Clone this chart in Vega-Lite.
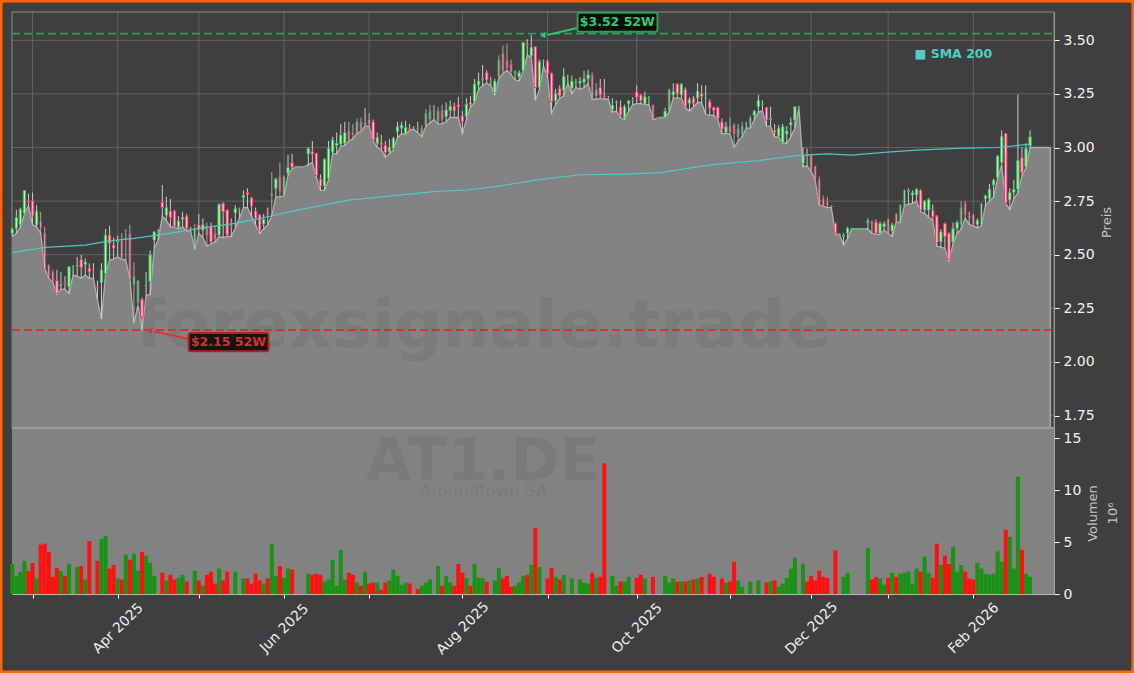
{
"$schema":"https://vega.github.io/schema/vega-lite/v6.json",
"width":1134,"height":673,
"autosize":{"type":"fit","contains":"padding"},
"padding":0,
"background":"#ffffff",
"view":{"fill":"#3f3f3f","stroke":"#ff6600","strokeWidth":5,"cornerRadius":4},
"config":{"font":"DejaVu Sans"},
"datasets":{
"ticks":[{"n":5},{"n":26},{"n":46},{"n":67},{"n":88},{"n":111},{"n":132},{"n":154},{"n":177},{"n":197},{"n":216},{"n":237}],
"levels":[{"p":1.75},{"p":2.0},{"p":2.25},{"p":2.5},{"p":2.75},{"p":3.0},{"p":3.25},{"p":3.5}],
"sma":[{"n":0,"s":2.51},{"n":8,"s":2.534},{"n":18,"s":2.545},{"n":24,"s":2.565},{"n":30,"s":2.576},{"n":38,"s":2.597},{"n":46,"s":2.623},{"n":55,"s":2.646},{"n":63,"s":2.677},{"n":71,"s":2.71},{"n":83,"s":2.755},{"n":104,"s":2.794},{"n":112,"s":2.802},{"n":120,"s":2.82},{"n":129,"s":2.848},{"n":140,"s":2.873},{"n":151,"s":2.876},{"n":160,"s":2.883},{"n":168,"s":2.907},{"n":174,"s":2.923},{"n":184,"s":2.939},{"n":194,"s":2.963},{"n":201,"s":2.97},{"n":207,"s":2.965},{"n":215,"s":2.977},{"n":223,"s":2.988},{"n":233,"s":2.996},{"n":243,"s":3.0},{"n":251,"s":3.016}],
"bars":[
{"n":0,"o":2.6,"h":2.625,"l":2.585,"c":2.62,"v":2.9,"s":"up"},
{"n":1,"o":2.623,"h":2.71,"l":2.6,"c":2.674,"v":1.7,"s":"up"},
{"n":2,"o":2.639,"h":2.72,"l":2.63,"c":2.712,"v":2.15,"s":"up"},
{"n":3,"o":2.693,"h":2.8,"l":2.69,"c":2.8,"v":3.2,"s":"up"},
{"n":4,"o":2.75,"h":2.785,"l":2.73,"c":2.745,"v":2.2,"s":"dn"},
{"n":5,"o":2.752,"h":2.79,"l":2.64,"c":2.68,"v":3.0,"s":"dn"},
{"n":6,"o":2.638,"h":2.73,"l":2.63,"c":2.703,"v":1.5,"s":"up"},
{"n":7,"o":2.655,"h":2.7,"l":2.6,"c":2.625,"v":4.75,"s":"dn"},
{"n":8,"o":2.6,"h":2.63,"l":2.437,"c":2.437,"v":4.85,"s":"dn"},
{"n":9,"o":2.45,"h":2.455,"l":2.39,"c":2.4,"v":4.05,"s":"dn"},
{"n":10,"o":2.42,"h":2.43,"l":2.37,"c":2.375,"v":1.65,"s":"dn"},
{"n":11,"o":2.38,"h":2.43,"l":2.315,"c":2.32,"v":2.5,"s":"dn"},
{"n":12,"o":2.355,"h":2.42,"l":2.34,"c":2.36,"v":2.2,"s":"up"},
{"n":13,"o":2.37,"h":2.4,"l":2.34,"c":2.365,"v":1.75,"s":"dn"},
{"n":14,"o":2.35,"h":2.445,"l":2.32,"c":2.444,"v":2.9,"s":"up"},
{"n":15,"o":2.447,"h":2.45,"l":2.405,"c":2.447,"v":0,"s":"up"},
{"n":16,"o":2.447,"h":2.49,"l":2.4,"c":2.45,"v":2.6,"s":"up"},
{"n":17,"o":2.478,"h":2.5,"l":2.39,"c":2.44,"v":2.7,"s":"dn"},
{"n":18,"o":2.455,"h":2.483,"l":2.405,"c":2.466,"v":1.4,"s":"up"},
{"n":19,"o":2.437,"h":2.46,"l":2.39,"c":2.42,"v":5.1,"s":"dn"},
{"n":20,"o":2.42,"h":2.46,"l":2.39,"c":2.42,"v":0,"s":"dn"},
{"n":21,"o":2.352,"h":2.38,"l":2.29,"c":2.348,"v":3.2,"s":"dn"},
{"n":22,"o":2.37,"h":2.46,"l":2.2,"c":2.428,"v":5.3,"s":"up"},
{"n":23,"o":2.413,"h":2.62,"l":2.41,"c":2.592,"v":5.6,"s":"up"},
{"n":24,"o":2.592,"h":2.635,"l":2.475,"c":2.553,"v":2.45,"s":"dn"},
{"n":25,"o":2.545,"h":2.58,"l":2.48,"c":2.53,"v":2.8,"s":"dn"},
{"n":26,"o":2.56,"h":2.59,"l":2.49,"c":2.565,"v":1.5,"s":"up"},
{"n":27,"o":2.57,"h":2.6,"l":2.48,"c":2.485,"v":1.4,"s":"dn"},
{"n":28,"o":2.575,"h":2.62,"l":2.475,"c":2.58,"v":3.8,"s":"up"},
{"n":29,"o":2.6,"h":2.64,"l":2.39,"c":2.39,"v":3.3,"s":"dn"},
{"n":30,"o":2.36,"h":2.465,"l":2.18,"c":2.4,"v":3.9,"s":"up"},
{"n":31,"o":2.275,"h":2.38,"l":2.265,"c":2.38,"v":2.25,"s":"up"},
{"n":32,"o":2.292,"h":2.3,"l":2.15,"c":2.21,"v":4.05,"s":"dn"},
{"n":33,"o":2.355,"h":2.42,"l":2.31,"c":2.358,"v":3.7,"s":"up"},
{"n":34,"o":2.374,"h":2.52,"l":2.315,"c":2.5,"v":3.0,"s":"up"},
{"n":35,"o":2.568,"h":2.61,"l":2.53,"c":2.606,"v":1.75,"s":"up"},
{"n":36,"o":2.605,"h":2.62,"l":2.57,"c":2.605,"v":0,"s":"up"},
{"n":37,"o":2.745,"h":2.825,"l":2.68,"c":2.72,"v":2.05,"s":"dn"},
{"n":38,"o":2.684,"h":2.77,"l":2.66,"c":2.72,"v":1.3,"s":"up"},
{"n":39,"o":2.704,"h":2.76,"l":2.63,"c":2.673,"v":1.85,"s":"dn"},
{"n":40,"o":2.704,"h":2.71,"l":2.63,"c":2.634,"v":1.4,"s":"dn"},
{"n":41,"o":2.626,"h":2.68,"l":2.62,"c":2.658,"v":1.55,"s":"up"},
{"n":42,"o":2.665,"h":2.7,"l":2.63,"c":2.675,"v":1.85,"s":"up"},
{"n":43,"o":2.68,"h":2.69,"l":2.61,"c":2.623,"v":1.2,"s":"dn"},
{"n":44,"o":2.62,"h":2.63,"l":2.61,"c":2.62,"v":0,"s":"up"},
{"n":45,"o":2.545,"h":2.645,"l":2.525,"c":2.62,"v":2.25,"s":"up"},
{"n":46,"o":2.64,"h":2.69,"l":2.6,"c":2.615,"v":1.3,"s":"dn"},
{"n":47,"o":2.615,"h":2.67,"l":2.58,"c":2.64,"v":0.8,"s":"up"},
{"n":48,"o":2.635,"h":2.65,"l":2.54,"c":2.59,"v":1.85,"s":"dn"},
{"n":49,"o":2.63,"h":2.65,"l":2.55,"c":2.56,"v":2.15,"s":"dn"},
{"n":50,"o":2.6,"h":2.635,"l":2.56,"c":2.57,"v":1.0,"s":"dn"},
{"n":51,"o":2.592,"h":2.74,"l":2.585,"c":2.735,"v":2.45,"s":"up"},
{"n":52,"o":2.74,"h":2.745,"l":2.58,"c":2.7,"v":1.3,"s":"dn"},
{"n":53,"o":2.708,"h":2.71,"l":2.585,"c":2.592,"v":2.15,"s":"dn"},
{"n":54,"o":2.63,"h":2.67,"l":2.585,"c":2.63,"v":0,"s":"up"},
{"n":55,"o":2.695,"h":2.73,"l":2.625,"c":2.716,"v":2.15,"s":"up"},
{"n":56,"o":2.71,"h":2.72,"l":2.67,"c":2.71,"v":0,"s":"up"},
{"n":57,"o":2.766,"h":2.8,"l":2.72,"c":2.778,"v":1.5,"s":"up"},
{"n":58,"o":2.79,"h":2.81,"l":2.72,"c":2.78,"v":1.5,"s":"dn"},
{"n":59,"o":2.765,"h":2.77,"l":2.68,"c":2.727,"v":1.0,"s":"dn"},
{"n":60,"o":2.704,"h":2.72,"l":2.64,"c":2.67,"v":1.95,"s":"dn"},
{"n":61,"o":2.685,"h":2.69,"l":2.6,"c":2.612,"v":1.3,"s":"dn"},
{"n":62,"o":2.643,"h":2.69,"l":2.62,"c":2.665,"v":1.0,"s":"up"},
{"n":63,"o":2.695,"h":2.72,"l":2.64,"c":2.69,"v":1.5,"s":"dn"},
{"n":64,"o":2.775,"h":2.885,"l":2.68,"c":2.785,"v":4.85,"s":"up"},
{"n":65,"o":2.81,"h":2.86,"l":2.77,"c":2.853,"v":1.75,"s":"up"},
{"n":66,"o":2.864,"h":2.93,"l":2.77,"c":2.794,"v":2.7,"s":"dn"},
{"n":67,"o":2.778,"h":2.87,"l":2.775,"c":2.864,"v":1.55,"s":"up"},
{"n":68,"o":2.88,"h":2.965,"l":2.87,"c":2.907,"v":2.45,"s":"up"},
{"n":69,"o":2.93,"h":2.97,"l":2.9,"c":2.908,"v":2.35,"s":"dn"},
{"n":70,"o":2.91,"h":2.915,"l":2.91,"c":2.91,"v":0,"s":"up"},
{"n":71,"o":2.91,"h":2.915,"l":2.91,"c":2.91,"v":0,"s":"up"},
{"n":72,"o":2.91,"h":2.915,"l":2.91,"c":2.91,"v":0,"s":"up"},
{"n":73,"o":2.97,"h":3.0,"l":2.92,"c":2.996,"v":1.95,"s":"up"},
{"n":74,"o":2.982,"h":3.03,"l":2.93,"c":2.968,"v":1.85,"s":"dn"},
{"n":75,"o":2.973,"h":2.975,"l":2.86,"c":2.869,"v":1.95,"s":"dn"},
{"n":76,"o":2.852,"h":2.875,"l":2.8,"c":2.82,"v":1.85,"s":"dn"},
{"n":77,"o":2.82,"h":2.95,"l":2.8,"c":2.945,"v":1.2,"s":"up"},
{"n":78,"o":2.856,"h":3.03,"l":2.85,"c":2.996,"v":1.4,"s":"up"},
{"n":79,"o":2.978,"h":3.05,"l":2.97,"c":3.035,"v":3.3,"s":"up"},
{"n":80,"o":3.009,"h":3.07,"l":2.97,"c":3.02,"v":0.8,"s":"up"},
{"n":81,"o":3.016,"h":3.11,"l":3.005,"c":3.058,"v":4.25,"s":"up"},
{"n":82,"o":3.02,"h":3.12,"l":3.01,"c":3.07,"v":1.4,"s":"up"},
{"n":83,"o":3.08,"h":3.12,"l":3.03,"c":3.035,"v":2.05,"s":"dn"},
{"n":84,"o":3.07,"h":3.11,"l":3.04,"c":3.06,"v":1.85,"s":"dn"},
{"n":85,"o":3.07,"h":3.135,"l":3.066,"c":3.12,"v":1.1,"s":"up"},
{"n":86,"o":3.12,"h":3.14,"l":3.075,"c":3.082,"v":0.8,"s":"dn"},
{"n":87,"o":3.108,"h":3.183,"l":3.1,"c":3.112,"v":2.15,"s":"up"},
{"n":88,"o":3.131,"h":3.16,"l":3.1,"c":3.11,"v":1.0,"s":"dn"},
{"n":89,"o":3.12,"h":3.13,"l":3.03,"c":3.035,"v":1.1,"s":"dn"},
{"n":90,"o":3.02,"h":3.07,"l":3.0,"c":3.047,"v":1.1,"s":"up"},
{"n":91,"o":3.022,"h":3.06,"l":2.99,"c":3.012,"v":0.4,"s":"dn"},
{"n":92,"o":3.01,"h":3.03,"l":2.955,"c":2.976,"v":1.1,"s":"dn"},
{"n":93,"o":2.979,"h":3.04,"l":2.97,"c":3.0,"v":1.3,"s":"up"},
{"n":94,"o":2.996,"h":3.05,"l":2.99,"c":3.044,"v":2.35,"s":"up"},
{"n":95,"o":3.074,"h":3.12,"l":3.045,"c":3.097,"v":1.75,"s":"up"},
{"n":96,"o":3.09,"h":3.12,"l":3.065,"c":3.105,"v":0.9,"s":"up"},
{"n":97,"o":3.062,"h":3.125,"l":3.06,"c":3.094,"v":1.1,"s":"up"},
{"n":98,"o":3.09,"h":3.11,"l":3.08,"c":3.085,"v":1.0,"s":"dn"},
{"n":99,"o":3.09,"h":3.1,"l":3.085,"c":3.09,"v":0,"s":"up"},
{"n":100,"o":3.09,"h":3.12,"l":3.07,"c":3.088,"v":0.5,"s":"dn"},
{"n":101,"o":3.06,"h":3.105,"l":3.05,"c":3.09,"v":0.8,"s":"up"},
{"n":102,"o":3.105,"h":3.18,"l":3.1,"c":3.16,"v":1.1,"s":"up"},
{"n":103,"o":3.13,"h":3.2,"l":3.115,"c":3.17,"v":1.4,"s":"up"},
{"n":104,"o":3.17,"h":3.198,"l":3.13,"c":3.17,"v":0,"s":"up"},
{"n":105,"o":3.12,"h":3.19,"l":3.11,"c":3.17,"v":2.7,"s":"up"},
{"n":106,"o":3.175,"h":3.2,"l":3.11,"c":3.13,"v":0.8,"s":"dn"},
{"n":107,"o":3.144,"h":3.21,"l":3.12,"c":3.175,"v":1.75,"s":"up"},
{"n":108,"o":3.172,"h":3.22,"l":3.14,"c":3.193,"v":1.1,"s":"up"},
{"n":109,"o":3.193,"h":3.21,"l":3.14,"c":3.172,"v":0.8,"s":"dn"},
{"n":110,"o":3.2,"h":3.237,"l":3.14,"c":3.19,"v":2.9,"s":"dn"},
{"n":111,"o":3.148,"h":3.17,"l":3.065,"c":3.12,"v":2.05,"s":"dn"},
{"n":112,"o":3.144,"h":3.23,"l":3.13,"c":3.203,"v":1.55,"s":"up"},
{"n":113,"o":3.21,"h":3.24,"l":3.19,"c":3.2,"v":0.8,"s":"dn"},
{"n":114,"o":3.214,"h":3.32,"l":3.21,"c":3.296,"v":2.9,"s":"up"},
{"n":115,"o":3.292,"h":3.35,"l":3.27,"c":3.31,"v":1.55,"s":"up"},
{"n":116,"o":3.318,"h":3.385,"l":3.29,"c":3.32,"v":1.55,"s":"up"},
{"n":117,"o":3.35,"h":3.36,"l":3.3,"c":3.315,"v":1.2,"s":"dn"},
{"n":118,"o":3.31,"h":3.33,"l":3.29,"c":3.31,"v":0,"s":"up"},
{"n":119,"o":3.256,"h":3.32,"l":3.245,"c":3.31,"v":1.3,"s":"up"},
{"n":120,"o":3.33,"h":3.43,"l":3.32,"c":3.408,"v":2.5,"s":"up"},
{"n":121,"o":3.44,"h":3.475,"l":3.345,"c":3.354,"v":1.5,"s":"dn"},
{"n":122,"o":3.408,"h":3.485,"l":3.36,"c":3.37,"v":1.75,"s":"dn"},
{"n":123,"o":3.39,"h":3.41,"l":3.34,"c":3.35,"v":0.7,"s":"dn"},
{"n":124,"o":3.35,"h":3.36,"l":3.315,"c":3.352,"v":0.8,"s":"up"},
{"n":125,"o":3.33,"h":3.36,"l":3.31,"c":3.35,"v":1.1,"s":"up"},
{"n":126,"o":3.358,"h":3.49,"l":3.355,"c":3.49,"v":1.75,"s":"up"},
{"n":127,"o":3.483,"h":3.505,"l":3.43,"c":3.478,"v":1.85,"s":"dn"},
{"n":128,"o":3.427,"h":3.525,"l":3.42,"c":3.467,"v":2.8,"s":"up"},
{"n":129,"o":3.47,"h":3.47,"l":3.22,"c":3.28,"v":6.35,"s":"dn"},
{"n":130,"o":3.28,"h":3.41,"l":3.27,"c":3.4,"v":2.6,"s":"up"},
{"n":131,"o":3.4,"h":3.41,"l":3.38,"c":3.4,"v":0,"s":"up"},
{"n":132,"o":3.402,"h":3.41,"l":3.33,"c":3.343,"v":1.5,"s":"dn"},
{"n":133,"o":3.346,"h":3.35,"l":3.16,"c":3.214,"v":2.5,"s":"dn"},
{"n":134,"o":3.217,"h":3.275,"l":3.2,"c":3.253,"v":1.65,"s":"up"},
{"n":135,"o":3.276,"h":3.29,"l":3.23,"c":3.24,"v":1.4,"s":"dn"},
{"n":136,"o":3.265,"h":3.37,"l":3.24,"c":3.332,"v":1.85,"s":"up"},
{"n":137,"o":3.31,"h":3.34,"l":3.3,"c":3.31,"v":0,"s":"up"},
{"n":138,"o":3.276,"h":3.335,"l":3.25,"c":3.31,"v":1.5,"s":"up"},
{"n":139,"o":3.3,"h":3.32,"l":3.28,"c":3.3,"v":0,"s":"up"},
{"n":140,"o":3.3,"h":3.33,"l":3.27,"c":3.31,"v":1.4,"s":"up"},
{"n":141,"o":3.305,"h":3.357,"l":3.28,"c":3.32,"v":1.1,"s":"up"},
{"n":142,"o":3.32,"h":3.362,"l":3.3,"c":3.34,"v":1.0,"s":"up"},
{"n":143,"o":3.338,"h":3.35,"l":3.225,"c":3.23,"v":2.05,"s":"dn"},
{"n":144,"o":3.24,"h":3.3,"l":3.225,"c":3.27,"v":1.55,"s":"up"},
{"n":145,"o":3.28,"h":3.32,"l":3.23,"c":3.245,"v":1.65,"s":"dn"},
{"n":146,"o":3.24,"h":3.32,"l":3.225,"c":3.235,"v":12.6,"s":"dn"},
{"n":147,"o":3.23,"h":3.24,"l":3.225,"c":3.23,"v":0,"s":"up"},
{"n":148,"o":3.178,"h":3.23,"l":3.165,"c":3.196,"v":1.75,"s":"up"},
{"n":149,"o":3.21,"h":3.22,"l":3.17,"c":3.213,"v":0.8,"s":"up"},
{"n":150,"o":3.19,"h":3.22,"l":3.14,"c":3.15,"v":1.2,"s":"dn"},
{"n":151,"o":3.14,"h":3.2,"l":3.13,"c":3.19,"v":1.2,"s":"up"},
{"n":152,"o":3.203,"h":3.22,"l":3.17,"c":3.218,"v":1.65,"s":"up"},
{"n":153,"o":3.22,"h":3.235,"l":3.2,"c":3.22,"v":0,"s":"up"},
{"n":154,"o":3.26,"h":3.29,"l":3.205,"c":3.234,"v":1.55,"s":"dn"},
{"n":155,"o":3.245,"h":3.25,"l":3.205,"c":3.218,"v":1.85,"s":"dn"},
{"n":156,"o":3.203,"h":3.26,"l":3.2,"c":3.237,"v":1.5,"s":"up"},
{"n":157,"o":3.23,"h":3.24,"l":3.2,"c":3.23,"v":0,"s":"up"},
{"n":158,"o":3.198,"h":3.2,"l":3.13,"c":3.136,"v":1.65,"s":"dn"},
{"n":159,"o":3.136,"h":3.14,"l":3.136,"c":3.136,"v":0,"s":"up"},
{"n":160,"o":3.14,"h":3.145,"l":3.14,"c":3.14,"v":0,"s":"up"},
{"n":161,"o":3.14,"h":3.185,"l":3.14,"c":3.17,"v":1.75,"s":"up"},
{"n":162,"o":3.17,"h":3.275,"l":3.165,"c":3.27,"v":1.1,"s":"up"},
{"n":163,"o":3.245,"h":3.3,"l":3.23,"c":3.26,"v":1.5,"s":"up"},
{"n":164,"o":3.296,"h":3.3,"l":3.23,"c":3.25,"v":1.2,"s":"dn"},
{"n":165,"o":3.245,"h":3.3,"l":3.23,"c":3.295,"v":1.2,"s":"up"},
{"n":166,"o":3.27,"h":3.28,"l":3.185,"c":3.193,"v":1.2,"s":"dn"},
{"n":167,"o":3.206,"h":3.235,"l":3.17,"c":3.225,"v":1.3,"s":"up"},
{"n":168,"o":3.23,"h":3.24,"l":3.19,"c":3.206,"v":1.4,"s":"dn"},
{"n":169,"o":3.23,"h":3.3,"l":3.21,"c":3.263,"v":1.5,"s":"up"},
{"n":170,"o":3.252,"h":3.29,"l":3.21,"c":3.237,"v":1.65,"s":"dn"},
{"n":171,"o":3.23,"h":3.29,"l":3.155,"c":3.23,"v":0,"s":"up"},
{"n":172,"o":3.214,"h":3.225,"l":3.15,"c":3.183,"v":1.95,"s":"dn"},
{"n":173,"o":3.187,"h":3.19,"l":3.15,"c":3.172,"v":1.65,"s":"dn"},
{"n":174,"o":3.187,"h":3.19,"l":3.13,"c":3.136,"v":0,"s":"dn"},
{"n":175,"o":3.119,"h":3.135,"l":3.065,"c":3.085,"v":1.5,"s":"dn"},
{"n":176,"o":3.07,"h":3.12,"l":3.065,"c":3.097,"v":1.1,"s":"up"},
{"n":177,"o":3.1,"h":3.14,"l":3.063,"c":3.07,"v":1.2,"s":"dn"},
{"n":178,"o":3.105,"h":3.115,"l":3.0,"c":3.062,"v":3.1,"s":"dn"},
{"n":179,"o":3.05,"h":3.11,"l":3.03,"c":3.09,"v":1.3,"s":"up"},
{"n":180,"o":3.06,"h":3.12,"l":3.05,"c":3.1,"v":0.7,"s":"up"},
{"n":181,"o":3.1,"h":3.12,"l":3.09,"c":3.1,"v":0,"s":"up"},
{"n":182,"o":3.1,"h":3.15,"l":3.09,"c":3.14,"v":1.2,"s":"up"},
{"n":183,"o":3.15,"h":3.175,"l":3.13,"c":3.17,"v":0,"s":"up"},
{"n":184,"o":3.19,"h":3.245,"l":3.165,"c":3.22,"v":1.3,"s":"up"},
{"n":185,"o":3.2,"h":3.22,"l":3.17,"c":3.2,"v":0,"s":"up"},
{"n":186,"o":3.187,"h":3.19,"l":3.1,"c":3.128,"v":1.1,"s":"dn"},
{"n":187,"o":3.13,"h":3.19,"l":3.1,"c":3.136,"v":1.2,"s":"up"},
{"n":188,"o":3.08,"h":3.11,"l":3.05,"c":3.07,"v":1.3,"s":"dn"},
{"n":189,"o":3.053,"h":3.105,"l":3.05,"c":3.09,"v":0.7,"s":"up"},
{"n":190,"o":3.023,"h":3.11,"l":3.02,"c":3.097,"v":1.0,"s":"up"},
{"n":191,"o":3.063,"h":3.1,"l":3.02,"c":3.077,"v":1.55,"s":"up"},
{"n":192,"o":3.105,"h":3.14,"l":3.05,"c":3.117,"v":2.45,"s":"up"},
{"n":193,"o":3.128,"h":3.19,"l":3.09,"c":3.19,"v":3.5,"s":"up"},
{"n":194,"o":3.19,"h":3.195,"l":3.185,"c":3.19,"v":0,"s":"up"},
{"n":195,"o":2.926,"h":3.0,"l":2.91,"c":2.965,"v":2.9,"s":"up"},
{"n":196,"o":2.967,"h":2.995,"l":2.915,"c":2.96,"v":1.2,"s":"dn"},
{"n":197,"o":2.965,"h":2.97,"l":2.89,"c":2.895,"v":1.75,"s":"dn"},
{"n":198,"o":2.913,"h":2.915,"l":2.85,"c":2.856,"v":1.3,"s":"dn"},
{"n":199,"o":2.85,"h":2.865,"l":2.73,"c":2.73,"v":2.25,"s":"dn"},
{"n":200,"o":2.762,"h":2.775,"l":2.727,"c":2.73,"v":1.65,"s":"dn"},
{"n":201,"o":2.745,"h":2.77,"l":2.72,"c":2.73,"v":1.55,"s":"dn"},
{"n":202,"o":2.725,"h":2.73,"l":2.72,"c":2.725,"v":0,"s":"up"},
{"n":203,"o":2.646,"h":2.65,"l":2.595,"c":2.6,"v":4.2,"s":"dn"},
{"n":204,"o":2.597,"h":2.6,"l":2.595,"c":2.597,"v":0,"s":"up"},
{"n":205,"o":2.585,"h":2.6,"l":2.545,"c":2.59,"v":1.65,"s":"up"},
{"n":206,"o":2.6,"h":2.63,"l":2.575,"c":2.623,"v":2.05,"s":"up"},
{"n":207,"o":2.623,"h":2.625,"l":2.62,"c":2.623,"v":0,"s":"up"},
{"n":208,"o":2.62,"h":2.625,"l":2.62,"c":2.62,"v":0,"s":"up"},
{"n":209,"o":2.62,"h":2.625,"l":2.62,"c":2.62,"v":0,"s":"up"},
{"n":210,"o":2.62,"h":2.625,"l":2.62,"c":2.62,"v":0,"s":"up"},
{"n":211,"o":2.65,"h":2.67,"l":2.62,"c":2.657,"v":4.45,"s":"up"},
{"n":212,"o":2.65,"h":2.66,"l":2.6,"c":2.645,"v":1.4,"s":"dn"},
{"n":213,"o":2.653,"h":2.665,"l":2.595,"c":2.6,"v":1.65,"s":"dn"},
{"n":214,"o":2.6,"h":2.655,"l":2.595,"c":2.646,"v":1.5,"s":"up"},
{"n":215,"o":2.63,"h":2.655,"l":2.615,"c":2.645,"v":0.9,"s":"up"},
{"n":216,"o":2.665,"h":2.67,"l":2.6,"c":2.6,"v":1.55,"s":"dn"},
{"n":217,"o":2.61,"h":2.65,"l":2.585,"c":2.64,"v":2.05,"s":"up"},
{"n":218,"o":2.69,"h":2.695,"l":2.655,"c":2.655,"v":1.65,"s":"dn"},
{"n":219,"o":2.655,"h":2.735,"l":2.65,"c":2.73,"v":1.95,"s":"up"},
{"n":220,"o":2.73,"h":2.805,"l":2.73,"c":2.8,"v":2.05,"s":"up"},
{"n":221,"o":2.795,"h":2.81,"l":2.735,"c":2.8,"v":2.15,"s":"up"},
{"n":222,"o":2.778,"h":2.8,"l":2.74,"c":2.789,"v":1.0,"s":"up"},
{"n":223,"o":2.778,"h":2.81,"l":2.75,"c":2.805,"v":2.45,"s":"up"},
{"n":224,"o":2.8,"h":2.805,"l":2.7,"c":2.708,"v":2.15,"s":"dn"},
{"n":225,"o":2.708,"h":2.755,"l":2.693,"c":2.75,"v":3.6,"s":"up"},
{"n":226,"o":2.708,"h":2.765,"l":2.675,"c":2.758,"v":2.05,"s":"up"},
{"n":227,"o":2.708,"h":2.735,"l":2.66,"c":2.677,"v":1.55,"s":"dn"},
{"n":228,"o":2.68,"h":2.685,"l":2.54,"c":2.556,"v":4.85,"s":"dn"},
{"n":229,"o":2.56,"h":2.62,"l":2.535,"c":2.607,"v":2.8,"s":"up"},
{"n":230,"o":2.646,"h":2.65,"l":2.53,"c":2.584,"v":3.7,"s":"dn"},
{"n":231,"o":2.6,"h":2.605,"l":2.47,"c":2.478,"v":2.9,"s":"dn"},
{"n":232,"o":2.56,"h":2.65,"l":2.55,"c":2.623,"v":4.55,"s":"up"},
{"n":233,"o":2.623,"h":2.66,"l":2.6,"c":2.651,"v":2.15,"s":"up"},
{"n":234,"o":2.64,"h":2.75,"l":2.62,"c":2.72,"v":2.8,"s":"up"},
{"n":235,"o":2.74,"h":2.75,"l":2.67,"c":2.685,"v":2.15,"s":"dn"},
{"n":236,"o":2.68,"h":2.7,"l":2.64,"c":2.675,"v":1.5,"s":"dn"},
{"n":237,"o":2.685,"h":2.69,"l":2.635,"c":2.64,"v":1.4,"s":"dn"},
{"n":238,"o":2.64,"h":2.67,"l":2.625,"c":2.66,"v":3.0,"s":"up"},
{"n":239,"o":2.64,"h":2.74,"l":2.635,"c":2.74,"v":2.45,"s":"up"},
{"n":240,"o":2.76,"h":2.78,"l":2.73,"c":2.775,"v":1.95,"s":"up"},
{"n":241,"o":2.762,"h":2.83,"l":2.75,"c":2.806,"v":1.85,"s":"up"},
{"n":242,"o":2.825,"h":2.855,"l":2.77,"c":2.848,"v":1.95,"s":"up"},
{"n":243,"o":2.859,"h":2.965,"l":2.855,"c":2.96,"v":4.1,"s":"up"},
{"n":244,"o":2.93,"h":3.08,"l":2.92,"c":3.053,"v":3.1,"s":"up"},
{"n":245,"o":3.066,"h":3.066,"l":2.74,"c":2.742,"v":6.2,"s":"dn"},
{"n":246,"o":2.755,"h":2.81,"l":2.71,"c":2.79,"v":5.5,"s":"up"},
{"n":247,"o":2.79,"h":2.85,"l":2.76,"c":2.805,"v":2.45,"s":"up"},
{"n":248,"o":2.805,"h":3.247,"l":2.79,"c":2.94,"v":11.3,"s":"up"},
{"n":249,"o":2.954,"h":3.0,"l":2.87,"c":2.882,"v":4.25,"s":"dn"},
{"n":250,"o":2.91,"h":3.02,"l":2.905,"c":2.996,"v":1.95,"s":"up"},
{"n":251,"o":3.007,"h":3.08,"l":3.0,"c":3.05,"v":1.65,"s":"up"},
{"n":256,"l":3.0}
]
},
"layer":[
{"layer":[
{"data":{"name":"ticks"},"mark":{"type":"rule","color":"#626262","strokeWidth":1},
"encoding":{
"x":{"field":"n","type":"quantitative","scale":{"domain":[-0.07,256.9],"range":[12,1054],"nice":false,"zero":false,"padding":0},
"axis":{"orient":"bottom","offset":-79,"title":null,"grid":false,"values":[5,26,46,67,88,111,132,154,177,197,216,237],
"labelExpr":"datum.value==26?'Apr 2025':datum.value==67?'Jun 2025':datum.value==111?'Aug 2025':datum.value==154?'Oct 2025':datum.value==197?'Dec 2025':datum.value==237?'Feb 2026':''",
"labelAngle":-45,"labelAlign":"center","labelBaseline":"middle","labelPadding":30,"labelOverlap":false,"labelFontSize":14,"labelColor":"#eeeeee","labelBound":false,"labelFlush":false,
"tickColor":"#ffffff","tickSize":4,"domainColor":"#b8b8b8","domainWidth":1}},
"y":{"datum":1.692,"type":"quantitative","scale":{"domain":[1.692,3.632],"range":[428,12],"nice":false,"zero":false},
"axis":{"orient":"right","offset":-80,"title":"Preis","titleColor":"#c4c4c4","titleFontSize":13,"titleFontWeight":"normal","titleAngle":270,"titleAlign":"center","titleBaseline":"middle","titleX":52,"titleY":222,
"grid":false,"values":[1.75,2.0,2.25,2.5,2.75,3.0,3.25,3.5],"format":".2f","labelFontSize":14,"labelColor":"#f2f2f2","labelPadding":4,"labelOverlap":false,"labelBound":false,"labelFlush":false,"tickColor":"#ffffff","tickSize":5,"domainColor":"#a8a8a8","domainWidth":1}},
"y2":{"datum":3.632}}},
{"data":{"name":"levels"},"mark":{"type":"rule","color":"#626262","strokeWidth":1},
"encoding":{"y":{"field":"p","type":"quantitative"},"x":{"datum":-0.07,"type":"quantitative"},"x2":{"datum":256.9}}},
{"data":{"values":[{"t":"frame"}]},"mark":{"type":"rect","fillOpacity":0,"stroke":"#8c8c8c","strokeWidth":1},
"encoding":{"x":{"datum":-0.07,"type":"quantitative"},"x2":{"datum":256.9},"y":{"datum":1.692,"type":"quantitative"},"y2":{"datum":3.632}}},
{"data":{"name":"bars"},"mark":{"type":"area","color":"#838383","opacity":1,"line":{"color":"#b0b0b0","strokeWidth":1.3}},
"encoding":{"x":{"field":"n","type":"quantitative"},"y":{"field":"l","type":"quantitative"},"y2":{"datum":1.692}}},
{"data":{"values":[{"t":"close-out"}]},"mark":{"type":"rule","color":"#a8a8a8","strokeWidth":1.5},
"encoding":{"x":{"datum":256,"type":"quantitative"},"y":{"datum":1.692,"type":"quantitative"},"y2":{"datum":3.0}}},
{"data":{"values":[{"t":"forexsignale.trade"}]},"mark":{"type":"text","fontSize":66.7,"fontWeight":"bold","color":"#000000","opacity":0.05,"align":"center","baseline":"middle"},
"encoding":{"text":{"field":"t"},"x":{"datum":116.2,"type":"quantitative"},"y":{"datum":2.163,"type":"quantitative"}}},
{"data":{"name":"bars"},"mark":{"type":"rule","color":"#cccccc","strokeWidth":1},
"encoding":{"x":{"field":"n","type":"quantitative"},"y":{"field":"h","type":"quantitative"},"y2":{"field":"l"},
"opacity":{"condition":{"test":"indexof([7,8,9,10,27,28,29,30,31,45,48,50,64,66,67,83,84,85,86,88,101,102,103,105,106,120,121,122,123,143,144,158,162,177,178,179,180,182,197,198,199,200,201,216,218,219,220,234,235,237,239],datum.n)>=0","value":0.75},"value":1}}},
{"data":{"name":"bars"},"mark":{"type":"bar","width":2.4,"strokeWidth":0.9},
"encoding":{"x":{"field":"n","type":"quantitative"},"y":{"field":"o","type":"quantitative"},"y2":{"field":"c"},
"fill":{"field":"s","type":"nominal","legend":null,"scale":{"domain":["up","dn"],"range":["#b8f0b8","#ffc0cc"]}},
"stroke":{"field":"s","type":"nominal","legend":null,"scale":{"domain":["up","dn"],"range":["#35b850","#ff2f68"]}},
"opacity":{"condition":{"test":"indexof([7,8,9,10,27,28,29,30,31,45,48,50,64,66,67,83,84,85,86,88,101,102,103,105,106,120,121,122,123,143,144,158,162,177,178,179,180,182,197,198,199,200,201,216,218,219,220,234,235,237,239],datum.n)>=0","value":0.4},"value":1}}},
{"data":{"name":"sma"},"mark":{"type":"line","color":"#4ecdc4","strokeWidth":1.2,"opacity":0.95},
"encoding":{"x":{"field":"n","type":"quantitative"},"y":{"field":"s","type":"quantitative"}}},
{"data":{"values":[{"p":3.531,"t":"high"}]},"mark":{"type":"rule","color":"#2e9e58","strokeWidth":1.8,"strokeDash":[8,4]},
"encoding":{"y":{"field":"p","type":"quantitative"},"x":{"datum":-0.07,"type":"quantitative"},"x2":{"datum":256.9}}},
{"data":{"values":[{"p":2.149,"t":"low"}]},"mark":{"type":"rule","color":"#c23a3a","strokeWidth":1.8,"strokeDash":[8,4]},
"encoding":{"y":{"field":"p","type":"quantitative"},"x":{"datum":-0.07,"type":"quantitative"},"x2":{"datum":256.9}}},
{"data":{"values":[{"t":"arrow"}]},"mark":{"type":"rule","color":"#2ecc71","strokeWidth":1.8},
"encoding":{"x":{"datum":132,"type":"quantitative"},"x2":{"datum":140},"y":{"datum":3.525,"type":"quantitative"},"y2":{"datum":3.56}}},
{"data":{"values":[{"t":"arrow"}]},"mark":{"type":"point","shape":"triangle-up","filled":true,"color":"#2ecc71","size":38,"angle":262,"opacity":1},
"encoding":{"x":{"datum":130.8,"type":"quantitative"},"y":{"datum":3.523,"type":"quantitative"}}},
{"data":{"values":[{"t":"box"}]},"mark":{"type":"rect","fill":"#0b0b0b","stroke":"#2a9d58","strokeWidth":2,"cornerRadius":2},
"encoding":{"x":{"datum":139.4,"type":"quantitative"},"x2":{"datum":159.1},"y":{"datum":3.628,"type":"quantitative"},"y2":{"datum":3.54}}},
{"data":{"values":[{"t":"$3.52 52W"}]},"mark":{"type":"text","fontSize":12.5,"fontWeight":"bold","color":"#2ecc71","align":"center","baseline":"middle"},
"encoding":{"text":{"field":"t"},"x":{"datum":149.2,"type":"quantitative"},"y":{"datum":3.585,"type":"quantitative"}}},
{"data":{"values":[{"t":"arrow"}]},"mark":{"type":"rule","color":"#e03030","strokeWidth":1.8},
"encoding":{"x":{"datum":35,"type":"quantitative"},"x2":{"datum":44},"y":{"datum":2.143,"type":"quantitative"},"y2":{"datum":2.105}}},
{"data":{"values":[{"t":"arrow"}]},"mark":{"type":"point","shape":"triangle-up","filled":true,"color":"#e03030","size":38,"angle":283,"opacity":1},
"encoding":{"x":{"datum":33.8,"type":"quantitative"},"y":{"datum":2.147,"type":"quantitative"}}},
{"data":{"values":[{"t":"box"}]},"mark":{"type":"rect","fill":"#141414","stroke":"#b02424","strokeWidth":2,"cornerRadius":2},
"encoding":{"x":{"datum":43.5,"type":"quantitative"},"x2":{"datum":63.2},"y":{"datum":2.135,"type":"quantitative"},"y2":{"datum":2.05}}},
{"data":{"values":[{"t":"$2.15 52W"}]},"mark":{"type":"text","fontSize":12.5,"fontWeight":"bold","color":"#d93030","align":"center","baseline":"middle"},
"encoding":{"text":{"field":"t"},"x":{"datum":53.3,"type":"quantitative"},"y":{"datum":2.092,"type":"quantitative"}}},
{"data":{"values":[{"t":"■ SMA 200"}]},"mark":{"type":"text","fontSize":12.5,"fontWeight":"bold","color":"#4ecdc4","align":"left","baseline":"middle"},
"encoding":{"text":{"field":"t"},"x":{"datum":222.5,"type":"quantitative"},"y":{"datum":3.436,"type":"quantitative"}}}
]},
{"layer":[
{"data":{"values":[{"t":"panel"}]},"mark":{"type":"rect","fill":"#828282"},
"encoding":{"x":{"datum":-0.07,"type":"quantitative"},"x2":{"datum":256.9},
"y":{"datum":0,"type":"quantitative","scale":{"domain":[0,16],"range":[594,428],"nice":false},
"axis":{"orient":"right","offset":-80,"title":["Volumen","10⁶"],"titleColor":"#c4c4c4","titleFontSize":13,"titleFontWeight":"normal","titleAngle":270,"titleAlign":"center","titleBaseline":"middle","titleLineHeight":20,"titleX":38,"titleY":513,
"grid":false,"values":[0,5,10,15],"labelFontSize":14,"labelColor":"#f2f2f2","labelPadding":4,"labelOverlap":false,"labelBound":false,"labelFlush":false,"tickColor":"#ffffff","tickSize":5,"domainColor":"#a8a8a8","domainWidth":1}},
"y2":{"datum":16}}},
{"data":{"values":[{"t":"AT1.DE"}]},"mark":{"type":"text","fontSize":59,"fontWeight":"bold","color":"#000000","opacity":0.05,"align":"center","baseline":"middle"},
"encoding":{"text":{"field":"t"},"x":{"datum":116,"type":"quantitative"},"y":{"datum":12.7,"type":"quantitative"}}},
{"data":{"values":[{"t":"Aroundtown SA"}]},"mark":{"type":"text","fontSize":16.5,"color":"#000000","opacity":0.05,"align":"center","baseline":"middle"},
"encoding":{"text":{"field":"t"},"x":{"datum":116.2,"type":"quantitative"},"y":{"datum":9.9,"type":"quantitative"}}},
{"data":{"values":[{"t":"divider"}]},"mark":{"type":"rule","color":"#9c9c9c","strokeWidth":2},
"encoding":{"y":{"datum":16,"type":"quantitative"},"x":{"datum":-0.07,"type":"quantitative"},"x2":{"datum":256.9}}},
{"data":{"name":"bars"},"mark":{"type":"bar","width":4.06},
"encoding":{"x":{"field":"n","type":"quantitative"},"y":{"field":"v","type":"quantitative"},
"color":{"field":"s","type":"nominal","legend":null,"scale":{"domain":["up","dn"],"range":["#1a9216","#ff1010"]}}}}
]}
],
"resolve":{"scale":{"y":"independent","fill":"independent","stroke":"independent","color":"independent"},"axis":{"y":"independent"}}
}
